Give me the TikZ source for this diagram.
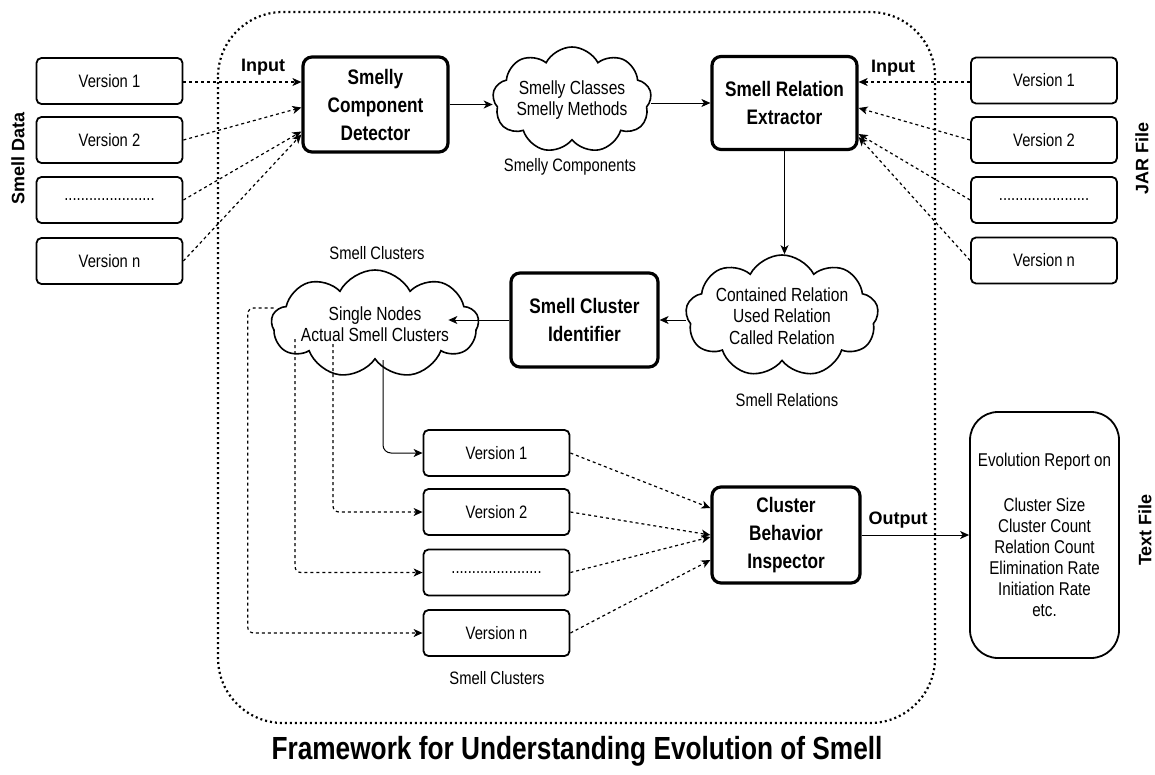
\documentclass[tikz,border=0pt]{standalone}
\usepackage{fontspec}
\setmainfont{Liberation Sans}[FakeStretch=0.82]
\newfontfamily\widefont{Liberation Sans}
\usetikzlibrary{shapes.symbols,arrows.meta,calc}
\begin{document}
\begin{tikzpicture}[x=1pt,y=-1pt,
  arr/.style={-{Stealth[length=9pt,width=8pt,inset=2.5pt]}, line width=1pt},
  darr/.style={arr, dash pattern=on 3pt off 3pt, line width=1.2pt},
  vbox/.style={draw, line width=1.8pt, rounded corners=5pt, minimum width=146pt, minimum height=46pt, inner sep=0pt, font=\fontsize{18}{21}\selectfont},
  mbox/.style={draw, line width=3.2pt, rounded corners=9pt, minimum width=145pt, minimum height=93pt, inner sep=0pt, align=center, font=\bfseries\fontsize{21}{28}\selectfont},
  cl/.style={draw, line width=1.6pt, cloud, cloud puffs=9, cloud puff arc=125, cloud ignores aspect, inner sep=0pt, align=center, font=\fontsize{19}{21.5}\selectfont},
  lbl/.style={font=\fontsize{18}{21}\selectfont},
  io/.style={font=\widefont\bfseries\fontsize{18}{21}\selectfont},
  frame/.style={line width=2.2pt, dash pattern=on 2pt off 3pt, rounded corners=65pt},
]
\useasboundingbox (0,0) rectangle (1155,774);
% frame
\draw[frame] (218,12) rectangle (935,723);
\node[font=\bfseries\fontsize{32}{34}\selectfont] (title) at (577,751) {Framework for Understanding Evolution of Smell};

% left inputs
\node[vbox] (L1) at (109.5,81) {Version 1};
\node[vbox] (L2) at (109.5,140) {Version 2};
\node[vbox] (L3) at (109.5,200) {......................};
\node[vbox] (L4) at (109.5,261) {Version n};
\node[io, rotate=90] (smelldata) at (18,158) {Smell Data};

% right inputs
\node[vbox] (R1) at (1044,80.5) {Version 1};
\node[vbox] (R2) at (1044,140) {Version 2};
\node[vbox] (R3) at (1044,200) {......................};
\node[vbox] (R4) at (1044,260.5) {Version n};
\node[io, rotate=90] (jar) at (1142,158) {JAR File};

% main boxes
\node[mbox, minimum height=95pt] (SCD) at (375.5,104.5) {Smelly\\Component\\Detector};
\node[mbox] (SRE) at (784.5,103) {Smell Relation\\Extractor};
\node[mbox, minimum height=94pt, minimum width=147pt] (SCI) at (584.5,320) {Smell Cluster\\Identifier};
\node[mbox, minimum height=96pt, minimum width=148pt] (CBI) at (786,535) {Cluster\\Behavior\\Inspector};

% clouds
\node[cl, minimum width=158pt, minimum height=106pt] (C1) at (572,100) {Smelly Classes\\Smelly Methods};
\node[cl, minimum width=156pt, minimum height=122pt] (C2) at (782,316) {Contained Relation\\Used Relation\\Called Relation};
\node[cl, minimum width=190pt, minimum height=108pt] (C3) at (375,324) {Single Nodes\\Actual Smell Clusters};

% lower version boxes
\node[vbox] (B1) at (496.5,453) {Version 1};
\node[vbox] (B2) at (496.5,512) {Version 2};
\node[vbox] (B3) at (496.5,572.5) {......................};
\node[vbox] (B4) at (496.5,633) {Version n};

% report
\node[draw, line width=1.8pt, rounded corners=28pt, minimum width=149pt, minimum height=246pt, align=center, font=\fontsize{18.5}{21}\selectfont] (REP) at (1044.5,535)
  {Evolution Report on\\[24pt]Cluster Size\\Cluster Count\\Relation Count\\Elimination Rate\\Initiation Rate\\etc.};
\node[io, rotate=90] (txt) at (1145,530) {Text File};

% labels
\node[io] (inL) at (263,67) {Input};
\node[io] (inR) at (893,68) {Input};
\node[io] (out) at (898,520) {Output};
\node[lbl] (lsc) at (570,167) {Smelly Components};
\node[lbl] (lcl1) at (377,253) {Smell Clusters};
\node[lbl] (lrel) at (787,400) {Smell Relations};
\node[lbl] (lcl2) at (497,678) {Smell Clusters};

% left dashed arrows
\draw[darr] (L1.east |- 0,82) -- (SCD.west |- 0,82);
\draw[darr] (L2.east) -- ([yshift=-3pt]SCD.west);
\draw[darr] (L3.east) -- ([yshift=-27pt]SCD.west);
\draw[darr] (L4.east) -- ([yshift=-30pt]SCD.west);

% right dashed arrows
\draw[darr] (R1.west |- 0,82) -- (SRE.east |- 0,82);
\draw[darr] (R2.west) -- ([yshift=-5pt]SRE.east);
\draw[darr] (R3.west) -- ([yshift=-31pt]SRE.east);
\draw[darr] (R4.west) -- ([yshift=-34pt]SRE.east);

% main flow
\draw[arr] (SCD.east) -- (SCD.east -| C1.west);
\draw[arr] (SRE.west -| C1.east) -- (SRE.west);
\draw[arr] (SRE.south) -- (SRE.south |- C2.north);
\draw[arr] (SCI.east -| C2.west) -- (SCI.east);
\draw[arr] (SCI.west) -- ++(-61,0);
\draw[arr] (CBI.east) -- (CBI.east -| REP.west);

% cluster to versions
\draw[arr, rounded corners=8pt] ([xshift=8pt]C3.south) |- (B1.west);
\draw[darr, rounded corners=6pt] ($(C3.south)+(-42,-16)$) |- (B2.west);
\draw[darr, rounded corners=6pt] ($(C3.south)+(-80,-21)$) |- (B3.west);
\draw[darr, rounded corners=6pt] ($(C3.west)+(3,-16)$) -- ($(C3.west)+(-23,-16)$) |- (B4.west);

% versions to inspector
\draw[darr] (B1.east) -- ([yshift=27pt]CBI.west);
\draw[darr] (B2.east) -- (CBI.west);
\draw[darr] (B3.east) -- ([yshift=-2pt]CBI.west);
\draw[darr] (B4.east) -- ([yshift=-25pt]CBI.west);
\end{tikzpicture}
\end{document}
